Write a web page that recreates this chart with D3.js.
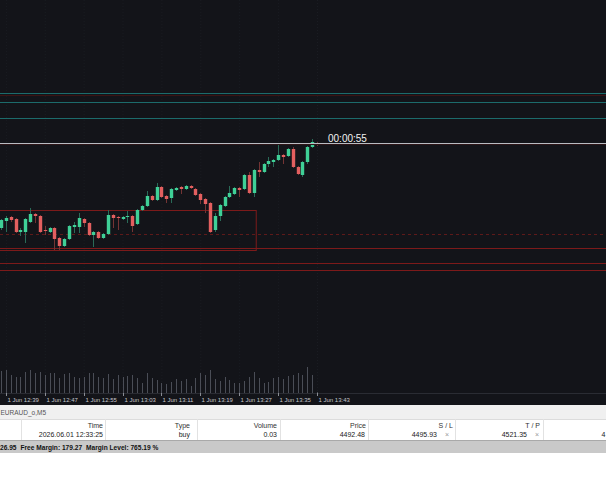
<!DOCTYPE html>
<html><head><meta charset="utf-8">
<script src="https://cdn.jsdelivr.net/npm/d3@7"></script>
<style>html,body{margin:0;padding:0;background:#fff;overflow:hidden}svg{display:block}</style>
</head><body>
<svg id="c" width="606" height="500"></svg>
<script>
// ---------- DATA ----------
const times = ["12:38","12:39","12:40","12:41","12:42","12:43","12:44","12:45","12:46","12:47",
 "12:48","12:49","12:50","12:51","12:52","12:53","12:54","12:55","12:56","12:57",
 "12:58","12:59","13:00","13:01","13:02","13:03","13:04","13:05","13:06","13:07",
 "13:08","13:09","13:10","13:11","13:12","13:13","13:14","13:15","13:16","13:17",
 "13:18","13:19","13:20","13:21","13:22","13:23","13:24","13:25","13:26","13:27",
 "13:28","13:29","13:30","13:31","13:32","13:33","13:34","13:35","13:36","13:37",
 "13:38","13:39","13:40","13:41","13:42","13:43"];
const opens = [4497.2,4497.9,4498.3,4498.1,4496.8,4496.8,4497.8,4498.6,4498.4,4497.0,
 4496.8,4497.2,4496.2,4495.4,4496.1,4497.3,4497.3,4498.1,4497.7,4496.5,
 4496.8,4496.2,4496.6,4498.5,4498.3,4498.1,4498.3,4498.4,4497.6,4499.0,
 4499.4,4500.4,4500.0,4501.3,4500.4,4500.2,4501.0,4501.3,4501.1,4501.4,
 4501.1,4500.6,4500.1,4499.7,4497.0,4498.4,4499.4,4500.3,4500.6,4501.2,
 4501.1,4502.5,4500.7,4503.0,4502.8,4503.6,4503.8,4504.0,4504.5,4504.4,
 4505.1,4503.3,4502.5,4503.8,4505.3,4505.7];
const highs = [4498.1,4498.4,4498.4,4498.2,4497.2,4498.2,4499.2,4498.7,4498.5,4497.4,
 4497.3,4497.3,4496.3,4496.2,4497.5,4497.8,4498.7,4498.2,4497.8,4496.9,
 4496.9,4496.7,4499.0,4498.6,4498.4,4498.4,4498.9,4498.5,4499.1,4499.5,
 4500.9,4500.5,4501.7,4501.4,4500.5,4501.2,4501.3,4501.4,4501.5,4501.5,
 4501.2,4500.7,4500.2,4499.8,4498.7,4499.6,4500.4,4501.4,4501.3,4501.3,
 4502.6,4502.8,4503.1,4503.8,4503.7,4504.3,4504.1,4505.5,4504.6,4505.2,
 4505.3,4503.4,4503.9,4505.4,4506.1,4505.8];
const lows = [4497.0,4496.8,4497.8,4496.7,4496.4,4495.7,4497.7,4497.7,4496.7,4496.5,
 4496.7,4495.0,4495.0,4495.3,4496.0,4496.7,4496.7,4497.3,4496.4,4495.3,
 4496.1,4496.1,4496.5,4497.2,4497.0,4498.0,4497.7,4496.8,4497.5,4498.9,
 4499.3,4499.9,4499.9,4500.2,4499.7,4499.7,4500.9,4500.6,4501.0,4501.1,
 4500.4,4499.6,4498.7,4496.7,4496.8,4497.9,4499.3,4500.2,4500.5,4500.3,
 4501.0,4500.6,4500.3,4502.3,4502.7,4503.3,4503.3,4503.9,4503.6,4504.3,
 4503.2,4502.5,4502.3,4503.6,4505.2,4505.4];
const closes = [4498.0,4498.2,4498.0,4496.8,4497.0,4498.1,4498.6,4498.4,4496.8,4496.9,
 4497.2,4496.1,4495.4,4496.1,4497.4,4497.5,4498.2,4497.7,4496.5,4496.8,
 4496.2,4496.6,4498.5,4498.2,4498.2,4498.3,4498.4,4497.4,4499.0,4499.4,
 4500.4,4500.0,4501.3,4500.3,4500.1,4501.1,4501.2,4501.1,4501.4,4501.2,
 4500.5,4500.0,4499.6,4496.8,4498.4,4499.5,4500.3,4500.7,4501.2,4501.0,
 4502.5,4500.7,4503.0,4502.8,4503.6,4503.9,4504.0,4504.5,4504.3,4505.1,
 4503.3,4502.6,4503.8,4505.3,4505.8,4505.5];
const volumes = [220,230,180,160,160,210,230,200,210,180,
 200,200,150,190,200,160,150,160,200,200,
 160,150,190,140,180,160,170,180,150,100,
 200,150,130,100,90,110,140,120,140,70,
 150,200,180,230,140,120,160,130,100,100,
 120,160,210,150,100,110,150,160,140,170,
 180,200,180,260,180,10];
const tickTimes = ["12:39","12:47","12:55","13:03","13:11","13:19","13:27","13:35","13:43"];
const tickLabels = ["1 Jun 12:39","1 Jun 12:47","1 Jun 12:55","1 Jun 13:03","1 Jun 13:11","1 Jun 13:19","1 Jun 13:27","1 Jun 13:35","1 Jun 13:43"];
const tealLevels = [4510.7, 4509.8, 4508.2];
const bidLevel = 4505.7;
const timerText = "00:00:55";
const entryLevel = 4496.6;
const redLevels = [4495.2, 4493.7, 4493.0];
const boxTimes = ["12:20:00", "13:30:30"];
const boxPrices = [4499.0, 4495.0];
const symbolTab = "EURAUD_o,M5";
const tableHeaders = ["Time","Type","Volume","Price","S / L","T / P"];
const tableRow = ["2026.06.01 12:33:25","buy","0.03","4492.48","4495.93","4521.35","4"];
const accountParts = ["26.95", "Free Margin: 179.27", "Margin Level: 765.19 %"];

// ---------- DRAW ----------
const svg = d3.select("#c");
const W = 606, chartH = 405;
const parseT = d3.timeParse("%H:%M");
const parseTS = d3.timeParse("%H:%M:%S");
const tDates = times.map(parseT);

const x = d3.scaleTime().domain([tDates[0], tDates[tDates.length-1]]).range([1, 317]);
const y = d3.scaleLinear().domain([4480, 4520]).range([400, 0]);
const yv = d3.scaleLinear().domain([0, 400]).range([393, 353]);

svg.append("rect").attr("x",0).attr("y",0).attr("width",W).attr("height",chartH).attr("fill","#131419");

// faint grid
const gridG = svg.append("g");
tickTimes.map(parseT).forEach(t => {
  gridG.append("line").attr("x1", x(t)+0.5).attr("x2", x(t)+0.5).attr("y1",0).attr("y2",393)
    .attr("stroke","#1a1c22").attr("stroke-width",1).attr("stroke-dasharray","1,2");
});

// volumes
svg.append("g").selectAll("line").data(volumes).join("line")
  .attr("x1",(d,i)=>Math.round(x(tDates[i]))+0.5).attr("x2",(d,i)=>Math.round(x(tDates[i]))+0.5)
  .attr("y1", yv(0)).attr("y2", d=>yv(d))
  .attr("stroke","#4a4d56").attr("stroke-width",1);

// horizontal levels
const hline = (p, color, dash, w) => svg.append("line")
  .attr("x1",0).attr("x2",W).attr("y1",Math.round(y(p))+0.5).attr("y2",Math.round(y(p))+0.5)
  .attr("stroke",color).attr("stroke-width",w||1).attr("stroke-dasharray",dash||null);
tealLevels.forEach(p => hline(p, "#1c6b6b"));
hline(tealLevels[0]-0.2, "#3c1414");
hline(entryLevel, "#5e1a1a", "3,3");
redLevels.forEach(p => hline(p, "#7c1a1a"));

// box
const bx0 = x(parseTS(boxTimes[0])), bx1 = x(parseTS(boxTimes[1]));
svg.append("rect").attr("x",bx0).attr("y",Math.round(y(boxPrices[0]))+0.5)
  .attr("width",bx1-bx0).attr("height",y(boxPrices[1])-y(boxPrices[0]))
  .attr("fill","none").attr("stroke","#7c1a1a").attr("stroke-width",1);

// candles
const cg = svg.append("g");
times.forEach((t,i) => {
  const cx = Math.round(x(tDates[i]));
  const up = closes[i] >= opens[i];
  cg.append("line").attr("x1",cx+0.5).attr("x2",cx+0.5)
    .attr("y1",y(highs[i])).attr("y2",y(lows[i]))
    .attr("stroke", up ? "#2a6b58" : "#743434").attr("stroke-width",1);
  const top = y(Math.max(opens[i],closes[i])), bot = y(Math.min(opens[i],closes[i]));
  cg.append("rect").attr("x",cx-1.2).attr("y",top).attr("width",3.4).attr("height",Math.max(1,bot-top))
    .attr("fill", up ? "#3fd097" : "#e35f5f");
});

// bid line + timer
hline(bidLevel-0.15, "#2c1517");
hline(bidLevel, "#b9bcc2");
svg.append("text").attr("x", 328).attr("y", y(bidLevel)-1.5).text(timerText)
  .attr("font-family","Liberation Sans, Arial, sans-serif").attr("font-size",10).attr("fill","#f2f2f2");

// time axis
svg.append("line").attr("x1",0).attr("x2",W).attr("y1",393.5).attr("y2",393.5).attr("stroke","#2a2c33");
const axG = svg.append("g");
tickTimes.forEach((t,i) => {
  const tx = Math.round(x(parseT(t)));
  axG.append("line").attr("x1",tx+0.5).attr("x2",tx+0.5).attr("y1",393).attr("y2",396).attr("stroke","#8a8d94");
  axG.append("text").attr("x",tx+1.5).attr("y",401.5).text(tickLabels[i])
    .attr("font-family","Liberation Sans, Arial, sans-serif").attr("font-size",6).attr("fill","#c4c6cc");
});

// ---------- bottom panel ----------
const font = "Liberation Sans, Arial, sans-serif";
svg.append("rect").attr("x",0).attr("y",405).attr("width",W).attr("height",14).attr("fill","#f0f0f0");
svg.append("text").attr("x",0.5).attr("y",414.5).text(symbolTab).attr("font-family",font).attr("font-size",6.5).attr("fill","#555");
svg.append("rect").attr("x",0).attr("y",419).attr("width",W).attr("height",21).attr("fill","#ffffff");
svg.append("line").attr("x1",0).attr("x2",W).attr("y1",419.5).attr("y2",419.5).attr("stroke","#dcdcdc");
const seps = [21,105,197,280,368,455,543];
seps.forEach(s => svg.append("line").attr("x1",s+0.5).attr("x2",s+0.5).attr("y1",419).attr("y2",440).attr("stroke","#e2e2e2"));
const colRight = [103,190,277,366,453,540];
tableHeaders.forEach((h,i) => svg.append("text").attr("x",colRight[i]).attr("y",427.5).attr("text-anchor","end")
  .text(h).attr("font-family",font).attr("font-size",7).attr("fill","#333"));
const valRight = [103,190,277,365,437,527];
tableRow.slice(0,6).forEach((v,i) => svg.append("text").attr("x",valRight[i]).attr("y",437).attr("text-anchor","end")
  .text(v).attr("font-family",font).attr("font-size",7).attr("fill","#222"));
[447, 537].forEach(cx => svg.append("text").attr("x",cx).attr("y",437).attr("text-anchor","middle").text("×")
  .attr("font-family",font).attr("font-size",7).attr("fill","#9a9a9a"));
svg.append("text").attr("x",601.5).attr("y",437).text(tableRow[6]).attr("font-family",font).attr("font-size",7).attr("fill","#222");
svg.append("rect").attr("x",0).attr("y",440).attr("width",W).attr("height",13).attr("fill","#c9c9c9");
svg.append("line").attr("x1",0).attr("x2",W).attr("y1",440.5).attr("y2",440.5).attr("stroke","#a9a9a9");
let ax = 0;
accountParts.forEach((s) => {
  const t = svg.append("text").attr("x",ax).attr("y",449.5).text(s)
    .attr("font-family",font).attr("font-size",6.6).attr("font-weight","bold").attr("fill","#111");
  ax += t.node().getComputedTextLength() + 4;
});
</script>
</body></html>
